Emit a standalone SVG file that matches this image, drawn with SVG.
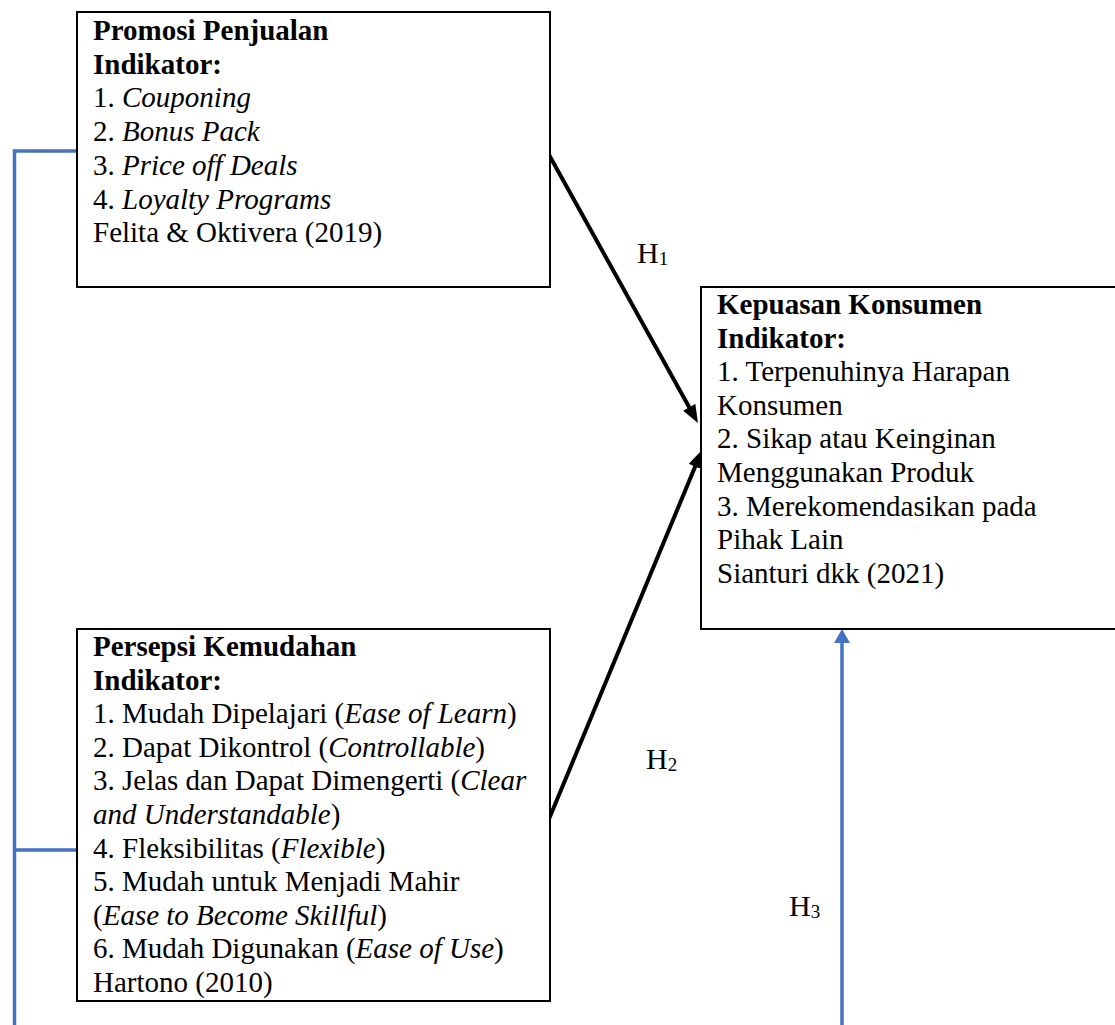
<svg xmlns="http://www.w3.org/2000/svg" width="1115" height="1025" viewBox="0 0 1115 1025">
<style>
  .box { fill: #ffffff; stroke: #000000; stroke-width: 2; }
  .t { font-family: "Liberation Serif", "Times New Roman", serif; font-size: 29px; fill: #000000; }
  .b { font-weight: bold; }
  .i { font-style: italic; }
  .lbl { font-family: "Liberation Serif", "Times New Roman", serif; font-size: 30px; fill: #000000; }
  .sub { font-size: 19px; }
  .blk { stroke: #000000; stroke-width: 4; fill: none; }
  .blu { stroke: #4472C4; stroke-width: 3.5; fill: none; }
</style>
<defs>
  <marker id="ab" viewBox="0 0 18 14" refX="8" refY="7" markerWidth="18" markerHeight="14" markerUnits="userSpaceOnUse" orient="auto">
    <path d="M0,0 L18,7 L0,14 z" fill="#000000"/>
  </marker>
  <marker id="au" viewBox="0 0 14 16" refX="4" refY="8" markerWidth="14" markerHeight="16" markerUnits="userSpaceOnUse" orient="auto">
    <path d="M0,0 L14,8 L0,16 z" fill="#4472C4"/>
  </marker>
</defs>

<g id="connectors">
  <polyline class="blu" points="77,151 14.5,151 14.5,1025"/>
  <line class="blu" x1="14.5" y1="850" x2="77" y2="850"/>
  <line class="blk" x1="548" y1="153" x2="693.1" y2="414.3" marker-end="url(#ab)"/>
  <line class="blk" x1="549" y1="819" x2="698.2" y2="459.2" marker-end="url(#ab)"/>
  <line class="blu" x1="842" y1="1025" x2="842" y2="639" marker-end="url(#au)"/>
</g>

<g id="promosi">
  <rect class="box" x="77" y="12" width="473" height="275"/>
  <text class="t b" x="93" y="40">Promosi Penjualan</text>
  <text class="t b" x="93" y="73.7">Indikator:</text>
  <text class="t" x="93" y="107.4">1. <tspan class="i">Couponing</tspan></text>
  <text class="t" x="93" y="141.1">2. <tspan class="i">Bonus Pack</tspan></text>
  <text class="t" x="93" y="174.8">3. <tspan class="i">Price off Deals</tspan></text>
  <text class="t" x="93" y="208.5">4. <tspan class="i">Loyalty Programs</tspan></text>
  <text class="t" x="93" y="242.2">Felita &amp; Oktivera (2019)</text>
</g>

<g id="kepuasan">
  <rect class="box" x="701" y="287" width="430" height="342"/>
  <text class="t b" x="717" y="314">Kepuasan Konsumen</text>
  <text class="t b" x="717" y="347.6">Indikator:</text>
  <text class="t" x="717" y="381.2">1. Terpenuhinya Harapan</text>
  <text class="t" x="717" y="414.8">Konsumen</text>
  <text class="t" x="717" y="448.4">2. Sikap atau Keinginan</text>
  <text class="t" x="717" y="482">Menggunakan Produk</text>
  <text class="t" x="717" y="515.6">3. Merekomendasikan pada</text>
  <text class="t" x="717" y="549.2">Pihak Lain</text>
  <text class="t" x="717" y="582.8">Sianturi dkk (2021)</text>
</g>

<g id="persepsi">
  <rect class="box" x="77" y="629" width="473" height="372"/>
  <text class="t b" x="93" y="656">Persepsi Kemudahan</text>
  <text class="t b" x="93" y="689.6">Indikator:</text>
  <text class="t" x="93" y="723.2">1. Mudah Dipelajari (<tspan class="i">Ease of Learn</tspan>)</text>
  <text class="t" x="93" y="756.8">2. Dapat Dikontrol (<tspan class="i">Controllable</tspan>)</text>
  <text class="t" x="93" y="790.4">3. Jelas dan Dapat Dimengerti (<tspan class="i">Clear</tspan></text>
  <text class="t" x="93" y="824"><tspan class="i">and Understandable</tspan>)</text>
  <text class="t" x="93" y="857.6">4. Fleksibilitas (<tspan class="i">Flexible</tspan>)</text>
  <text class="t" x="93" y="891.2">5. Mudah untuk Menjadi Mahir</text>
  <text class="t" x="93" y="924.8">(<tspan class="i">Ease to Become Skillful</tspan>)</text>
  <text class="t" x="93" y="958.4">6. Mudah Digunakan (<tspan class="i">Ease of Use</tspan>)</text>
  <text class="t" x="93" y="992">Hartono (2010)</text>
</g>

<g id="labels">
  <text class="lbl" x="637" y="263">H<tspan class="sub" dy="2">1</tspan></text>
  <text class="lbl" x="646" y="769">H<tspan class="sub" dy="2">2</tspan></text>
  <text class="lbl" x="789" y="916">H<tspan class="sub" dy="2">3</tspan></text>
</g>
</svg>
